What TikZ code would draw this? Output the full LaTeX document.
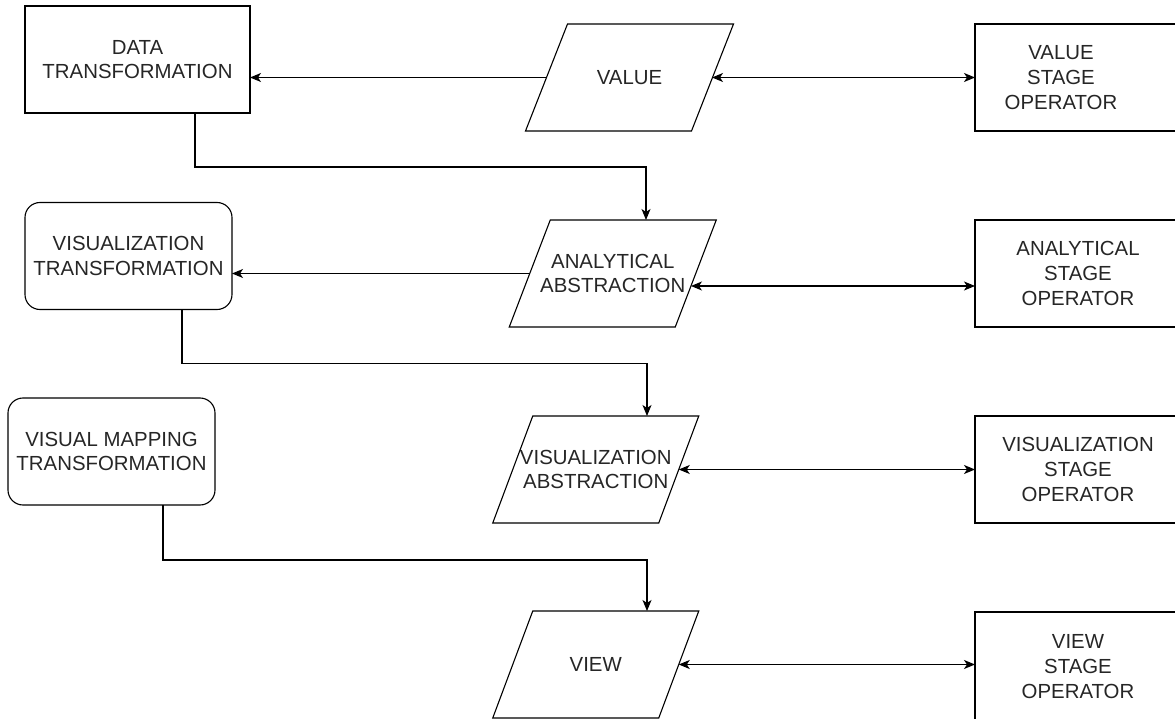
\documentclass[tikz,border=0pt]{standalone}
\usepackage{fontspec}
\setmainfont{Liberation Sans}
\usetikzlibrary{arrows.meta,calc}
\tikzset{
  base/.style={inner sep=0pt, outer sep=0pt, align=center, text=black!85,
    font=\fontsize{20.4}{24.6}\selectfont},
  sqbox/.style={base, draw, line width=1.1pt, minimum width=225pt, minimum height=107pt},
  rndbox/.style={base, draw, line width=1.1pt, rounded corners=15pt, minimum width=207pt, minimum height=107pt},
  opbox/.style={base, minimum width=202pt, minimum height=107pt, anchor=west},
  parabox/.style={base, minimum width=166pt, minimum height=107pt},
  edge/.style={line width=1.1pt, line join=miter},
  conn/.style={line width=1.1pt, -{Stealth[length=11pt,width=9pt,inset=3pt]}},
  dbl/.style={line width=1.1pt, {Stealth[length=11pt,width=9pt,inset=3pt]}-{Stealth[length=11pt,width=9pt,inset=3pt]}},
}
\newcommand{\paraline}[2]{%
  \draw[edge]
    ([xshift=#2/2]#1.north west) -- ([xshift=#2/2]#1.north east)
    -- ([xshift=-#2/2]#1.south east) -- ([xshift=-#2/2]#1.south west) -- cycle;}
\newcommand{\openbox}[1]{%
  \draw[edge] (#1.north east) -- (#1.north west) -- (#1.south west) -- (#1.south east);}
\begin{document}
\begin{tikzpicture}[x=1pt,y=-1pt]
\useasboundingbox (0,0) rectangle (1175,719);
% left column
\node[sqbox] (dt) at (137.5,59.5) {DATA\\TRANSFORMATION};
\node[rndbox] (vt) at (128.5,256) {VISUALIZATION\\TRANSFORMATION};
\node[rndbox] (vm) at (111.5,451.5) {VISUAL MAPPING\\TRANSFORMATION};
% middle column (parallelograms)
\node[parabox] (val) at (629.5,77.5) {VALUE};
\paraline{val}{42pt}
\node[parabox] (an) at (612.75,273.5) {ANALYTICAL\\ABSTRACTION};
\paraline{an}{41pt}
\node[parabox] (va) at (595.75,469.5) {VISUALIZATION\\ABSTRACTION};
\paraline{va}{40pt}
\node[parabox] (vw) at (595.75,664.5) {VIEW};
\paraline{vw}{40pt}
% right column (boxes run past the right edge of the picture)
\node[opbox, label={[base, xshift=-15pt]center:VALUE\\STAGE\\OPERATOR}] (vso) at (975,77.5) {};
\openbox{vso}
\node[opbox, label={[base, xshift=2pt]center:ANALYTICAL\\STAGE\\OPERATOR}] (aso) at (975,273.5) {};
\openbox{aso}
\node[opbox, label={[base, xshift=2pt]center:VISUALIZATION\\STAGE\\OPERATOR}] (vzso) at (975,469.5) {};
\openbox{vzso}
\node[opbox, label={[base, xshift=2pt, yshift=-1pt]center:VIEW\\STAGE\\OPERATOR}] (vwso) at (975,665.5) {};
\draw[edge] (vwso.north east) -- (vwso.north west) -- ([yshift=-20pt]vwso.south west);
% connectors
\draw[conn] (val.west) -- (val.west -| dt.east);
\draw[dbl] ([xshift=-0.5pt]val.east) -- (val.east -| vso.west);
\draw[conn] ([xshift=57.5pt]dt.south) -- ++(0,54) -| ([xshift=33.25pt]an.north);
\draw[conn] (an.west) -- (an.west -| vt.east);
\coordinate (anR) at ([shift={(-4.8,12.5)}]an.east);
\draw[dbl] (anR) -- (anR -| aso.west);
\draw[conn] ([xshift=53.5pt]vt.south) -- ++(0,54) -| ([xshift=51.25pt]va.north);
\draw[dbl] (va.east) -- (va.east -| vzso.west);
\draw[conn] ([xshift=51.5pt]vm.south) -- ++(0,55) -| ([xshift=51.25pt]vw.north);
\draw[dbl] (vw.east) -- (vw.east -| vwso.west);
\end{tikzpicture}
\end{document}
